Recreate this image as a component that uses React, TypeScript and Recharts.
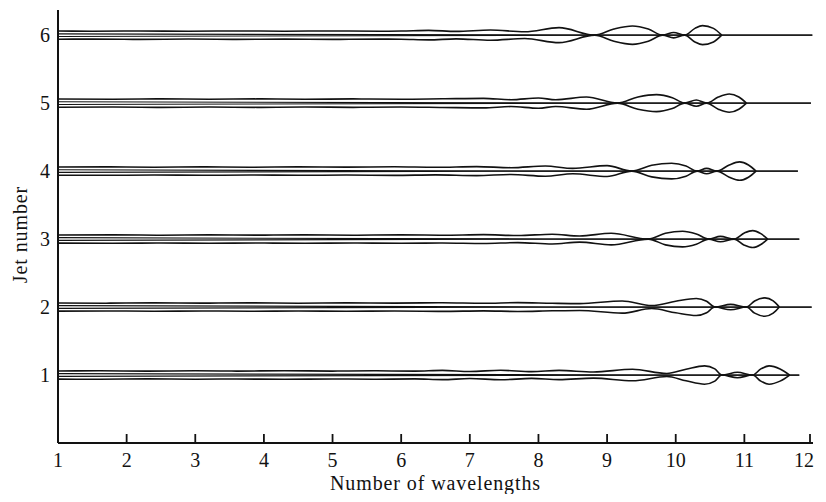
import React from 'react';
import { LineChart, Line, XAxis, YAxis } from 'recharts';

const xTicks = [1, 2, 3, 4, 5, 6, 7, 8, 9, 10, 11, 12];
const yTicks = [1, 2, 3, 4, 5, 6];
const jetNumbers = [1, 2, 3, 4, 5, 6];

// outer surface half-width (in jet-number units) read along each jet: [wavelengths, half-width]
const jet1Surface: [number, number][] = [[1,0.06],[1.6,0.062],[2.3,0.057],[3,0.062],[3.6,0.058],[4.3,0.063],[5,0.058],[5.6,0.062],[6.2,0.057],[6.6,0.068],[7.0,0.052],[7.45,0.07],[7.9,0.05],[8.3,0.068],[8.8,0.045],[9.37,0.085],[9.87,0.022],[10.15,0.085],[10.42,0.135],[10.57,0.09],[10.67,0],[10.9,0.04],[11.12,0],[11.24,0.09],[11.36,0.135],[11.52,0.09],[11.66,0]];
const jet2Surface: [number, number][] = [[1,0.06],[1.7,0.057],[2.4,0.062],[3.1,0.058],[3.8,0.062],[4.5,0.057],[5.2,0.062],[5.9,0.058],[6.6,0.063],[7.2,0.056],[7.7,0.065],[8.2,0.055],[8.6,0.05],[9.22,0.09],[9.65,0.022],[10.0,0.085],[10.3,0.125],[10.45,0.085],[10.57,0],[10.8,0.04],[11.03,0],[11.15,0.09],[11.3,0.135],[11.42,0.09],[11.51,0]];
const jet3Surface: [number, number][] = [[1,0.06],[1.8,0.062],[2.5,0.057],[3.2,0.062],[3.9,0.058],[4.6,0.062],[5.3,0.057],[6.0,0.062],[6.6,0.057],[7.2,0.065],[7.7,0.052],[8.2,0.072],[8.6,0.045],[9.06,0.085],[9.6,0],[9.85,0.085],[10.1,0.115],[10.3,0.075],[10.48,0],[10.65,0.04],[10.85,0],[11.0,0.09],[11.12,0.125],[11.24,0.08],[11.34,0]];
const jet4Surface: [number, number][] = [[1,0.06],[1.7,0.062],[2.4,0.057],[3.1,0.062],[3.8,0.057],[4.5,0.062],[5.2,0.058],[5.9,0.063],[6.5,0.056],[7.1,0.066],[7.6,0.05],[8.1,0.075],[8.5,0.04],[9.0,0.08],[9.36,0],[9.65,0.085],[9.94,0.115],[10.15,0.075],[10.31,0],[10.45,0.04],[10.6,0],[10.78,0.09],[10.93,0.135],[11.06,0.09],[11.17,0]];
const jet5Surface: [number, number][] = [[1,0.06],[1.8,0.057],[2.5,0.062],[3.2,0.058],[3.9,0.062],[4.6,0.057],[5.3,0.062],[6.0,0.058],[6.6,0.064],[7.2,0.07],[7.6,0.05],[8.0,0.075],[8.25,0.05],[8.7,0.09],[9.15,0],[9.45,0.09],[9.72,0.125],[9.95,0.08],[10.13,0],[10.3,0.045],[10.45,0],[10.62,0.09],[10.78,0.135],[10.92,0.09],[11.03,0]];
const jet6Surface: [number, number][] = [[1,0.06],[1.5,0.058],[2.2,0.062],[2.9,0.057],[3.6,0.062],[4.3,0.058],[5.0,0.062],[5.7,0.058],[6.0,0.06],[6.4,0.07],[6.8,0.055],[7.3,0.075],[7.8,0.05],[8.3,0.11],[8.82,0],[9.1,0.09],[9.37,0.135],[9.6,0.09],[9.81,0],[9.97,0.04],[10.13,0],[10.28,0.1],[10.39,0.14],[10.55,0.1],[10.67,0]];

const jetSurfaces = [jet1Surface, jet2Surface, jet3Surface, jet4Surface, jet5Surface, jet6Surface];
// where the inner lines meet the axis, and where the thread ends
const jetMerge = [9.87, 9.65, 9.6, 9.36, 9.15, 8.82];
const jetTail = [11.8, 11.98, 11.8, 11.78, 11.97, 11.99];
const innerHalfWidth = 0.02;

const INK = '#121212';
const FONT = '"Liberation Serif", "Times New Roman", serif';
const lastX = xTicks[xTicks.length - 1];

const XTick = (p: any) => {
  const { x, y, payload } = p;
  const isLast = payload.value === lastX;
  return (
    <g>
      <line x1={x} y1={y} x2={x} y2={y - 9} stroke={INK} strokeWidth={1.8} />
      <text
        x={isLast ? x + 4 : x}
        y={y + 24}
        textAnchor={isLast ? 'end' : 'middle'}
        fontFamily={FONT}
        fontSize={20}
        fill={INK}
      >
        {payload.value}
      </text>
    </g>
  );
};

const YTick = (p: any) => {
  const { x, y, payload } = p;
  return (
    <text x={x} y={y} dy="0.35em" textAnchor="end" fontFamily={FONT} fontSize={20} fill={INK}>
      {payload.value}
    </text>
  );
};

const XLabel = (p: any) => {
  const vb = p.viewBox || { x: 0, y: 0, width: 0, height: 0 };
  return (
    <text x={vb.x + vb.width / 2} y={vb.y + 47} textAnchor="middle" fontFamily={FONT} fontSize={20} letterSpacing={0.9} fill={INK}>
      Number of wavelengths
    </text>
  );
};

const YLabel = (p: any) => {
  const vb = p.viewBox || { x: 0, y: 0, width: 0, height: 0 };
  const cx = vb.x + 19;
  const cy = vb.y + vb.height / 2 + 8;
  return (
    <text x={cx} y={cy} textAnchor="middle" transform={`rotate(-90 ${cx} ${cy})`} fontFamily={FONT} fontSize={20} letterSpacing={0.9} fill={INK}>
      Jet number
    </text>
  );
};

export default function App() {
  const series: { key: string; data: { x: number; y: number }[]; w: number }[] = [];
  jetNumbers.forEach((jet, i) => {
    const pts = jetSurfaces[i];
    series.push({ key: `u${jet}`, data: pts.map(([x, r]) => ({ x, y: jet + r })), w: 1.6 });
    series.push({ key: `l${jet}`, data: pts.map(([x, r]) => ({ x, y: jet - r })), w: 1.6 });
    const inner: [number, number][] = [[1, innerHalfWidth], [jetMerge[i], 0], [jetTail[i], 0]];
    series.push({ key: `iu${jet}`, data: inner.map(([x, r]) => ({ x, y: jet + r })), w: 1.2 });
    series.push({ key: `il${jet}`, data: inner.map(([x, r]) => ({ x, y: jet - r })), w: 1.2 });
  });

  return (
    <div style={{ width: 810, height: 486 }}>
      <LineChart width={810} height={486} margin={{ top: 2, right: 5, bottom: 6, left: 0 }}>
        <XAxis
          type="number"
          dataKey="x"
          domain={[1, 12]}
          ticks={xTicks}
          allowDataOverflow
          height={45}
          tickSize={0}
          tickMargin={0}
          tickLine={false}
          tick={<XTick />}
          axisLine={{ stroke: INK, strokeWidth: 2 }}
          label={<XLabel />}
        />
        <YAxis
          type="number"
          dataKey="y"
          domain={[0, 6.37]}
          ticks={yTicks}
          allowDataOverflow
          width={50}
          tickSize={0}
          tickMargin={8}
          tickLine={false}
          tick={<YTick />}
          axisLine={{ stroke: INK, strokeWidth: 2 }}
          label={<YLabel />}
        />
        {series.map((s) => (
          <Line
            key={s.key}
            data={s.data}
            dataKey="y"
            type="monotone"
            stroke={INK}
            strokeWidth={s.w}
            dot={false}
            activeDot={false}
            isAnimationActive={false}
          />
        ))}
      </LineChart>
    </div>
  );
}
